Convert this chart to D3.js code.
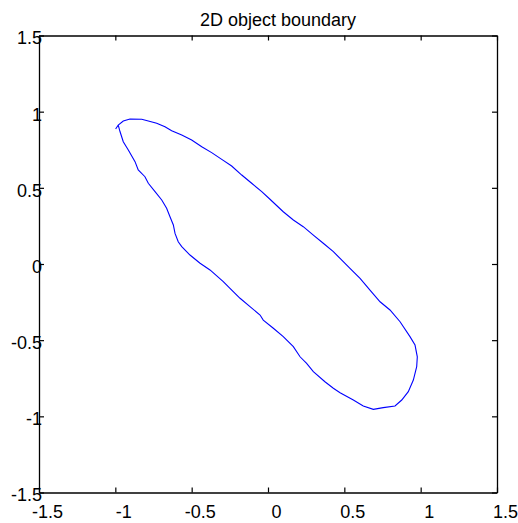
<!DOCTYPE html>
<html>
<head>
<meta charset="utf-8">
<script src="https://cdn.jsdelivr.net/npm/d3@7"></script>
<style>
  html, body { margin: 0; padding: 0; background: #fff; }
  svg { display: block; }
  text { font-family: "Liberation Sans", Arial, sans-serif; fill: #000; }
</style>
</head>
<body>
<svg id="chart" width="518" height="523"></svg>
<script>
// Traced outline of the object, in plot units (x, y pairs in order).
const boundaryX = [
  -0.998, -0.981, -0.948, -0.904, -0.827, -0.784, -0.729, -0.675, -0.631, -0.565,
  -0.500, -0.434, -0.369, -0.303, -0.238, -0.172, -0.107, -0.041, 0.013, 0.100,
  0.166, 0.231, 0.297, 0.362, 0.428, 0.472, 0.537, 0.603, 0.668, 0.734,
  0.799, 0.865, 0.930, 0.963, 0.978, 0.974, 0.952, 0.919, 0.876, 0.832,
  0.755, 0.690, 0.624, 0.559, 0.472, 0.428, 0.373, 0.297, 0.253, 0.210,
  0.166, 0.100, 0.035, -0.031, -0.052, -0.118, -0.183, -0.249, -0.293, -0.380,
  -0.445, -0.511, -0.565, -0.588, -0.609, -0.620, -0.642, -0.664, -0.696, -0.740,
  -0.784, -0.806, -0.850, -0.871, -0.915, -0.948, -0.969, -0.981
];
const boundaryY = [
  0.886, 0.912, 0.939, 0.952, 0.950, 0.939, 0.924, 0.901, 0.875, 0.847,
  0.814, 0.770, 0.731, 0.687, 0.643, 0.584, 0.530, 0.475, 0.425, 0.343,
  0.289, 0.245, 0.190, 0.136, 0.081, 0.037, -0.028, -0.094, -0.171, -0.248,
  -0.302, -0.379, -0.477, -0.532, -0.609, -0.674, -0.762, -0.838, -0.893, -0.932,
  -0.943, -0.954, -0.932, -0.893, -0.845, -0.816, -0.773, -0.707, -0.652, -0.609,
  -0.543, -0.477, -0.422, -0.368, -0.335, -0.280, -0.225, -0.160, -0.116, -0.039,
  0.005, 0.059, 0.114, 0.146, 0.201, 0.256, 0.310, 0.366, 0.420, 0.475,
  0.530, 0.573, 0.617, 0.672, 0.748, 0.803, 0.868, 0.912
];

const xTicks = [-1.5, -1, -0.5, 0, 0.5, 1, 1.5];
const yTicks = [-1.5, -1, -0.5, 0, 0.5, 1, 1.5];
const xTickLabels = ["-1.5", "-1", "-0.5", "0", "0.5", "1", "1.5"];
const yTickLabels = ["-1.5", "-1", "-0.5", "0", "0.5", "1", "1.5"];
const titleText = "2D object boundary";

const box = { left: 39, right: 497, top: 35.5, bottom: 492.5 };
const svg = d3.select("#chart");

const x = d3.scaleLinear().domain([-1.5, 1.5]).range([box.left, box.right]);
const y = d3.scaleLinear().domain([-1.5, 1.5]).range([box.bottom, box.top]);

const fontSize = 18;
const tickLen = 5;

// Bottom axis with labels
const gBottom = svg.append("g")
  .attr("transform", `translate(0,${box.bottom})`)
  .call(d3.axisBottom(x).tickValues(xTicks)
    .tickFormat((d, i) => xTickLabels[i])
    .tickSizeInner(-tickLen).tickSizeOuter(0).tickPadding(12.7));

// Left axis with labels
const gLeft = svg.append("g")
  .attr("transform", `translate(${box.left},0)`)
  .call(d3.axisLeft(y).tickValues(yTicks)
    .tickFormat((d, i) => yTickLabels[i])
    .tickSizeInner(-tickLen).tickSizeOuter(0).tickPadding(-3));

// Top and right axes: ticks only, closing the box
const gTop = svg.append("g")
  .attr("transform", `translate(0,${box.top})`)
  .call(d3.axisTop(x).tickValues(xTicks).tickFormat(() => "")
    .tickSizeInner(-tickLen).tickSizeOuter(0));

const gRight = svg.append("g")
  .attr("transform", `translate(${box.right},0)`)
  .call(d3.axisRight(y).tickValues(yTicks).tickFormat(() => "")
    .tickSizeInner(-tickLen).tickSizeOuter(0));

[gBottom, gLeft, gTop, gRight].forEach(g => {
  g.selectAll(".domain").attr("stroke", "#000").attr("stroke-width", 1.3);
  g.selectAll(".tick line").attr("stroke", "#000").attr("stroke-width", 1.2);
  g.selectAll("text")
    .attr("font-family", '"Liberation Sans", Arial, sans-serif')
    .attr("font-size", fontSize)
    .attr("fill", "#000");
});
gBottom.selectAll(".tick text").attr("dx", 8);
gLeft.selectAll(".tick text").attr("dy", "0.47em");

// Boundary curve
const pts = boundaryX.map((v, i) => [v, boundaryY[i]]);
svg.append("path")
  .datum(pts)
  .attr("fill", "none")
  .attr("stroke", "#0000ff")
  .attr("stroke-width", 1.1)
  .attr("d", d3.line().x(d => x(d[0])).y(d => y(d[1])));

// Title
svg.append("text")
  .attr("x", (box.left + box.right) / 2 + 10)
  .attr("y", 26)
  .attr("text-anchor", "middle")
  .attr("font-size", fontSize)
  .text(titleText);
</script>
</body>
</html>
